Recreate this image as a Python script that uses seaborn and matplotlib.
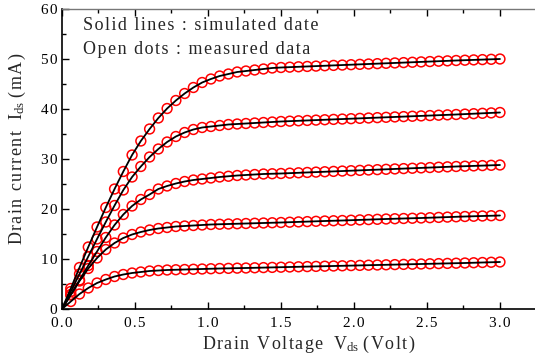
import numpy as np
import pandas as pd
import matplotlib
matplotlib.use("Agg")
import matplotlib.pyplot as plt
import seaborn as sns

# ==========================
# Data
# ==========================

vds = np.round(np.arange(1, 51) * 0.06, 2)

ids_1 = [1.5, 3.0, 4.2, 5.2, 5.9, 6.5, 6.9, 7.2, 7.4, 7.6,
         7.7, 7.8, 7.85, 7.9, 7.95, 8.0, 8.05, 8.1, 8.13, 8.17,
         8.2, 8.24, 8.28, 8.32, 8.36, 8.4, 8.44, 8.48, 8.52, 8.56,
         8.6, 8.64, 8.68, 8.72, 8.76, 8.8, 8.84, 8.88, 8.92, 8.96,
         9.0, 9.04, 9.08, 9.12, 9.16, 9.2, 9.25, 9.3, 9.35, 9.4]

ids_2 = [2.8, 5.6, 8.1, 10.2, 11.9, 13.2, 14.2, 14.9, 15.4, 15.8,
         16.1, 16.3, 16.5, 16.6, 16.7, 16.8, 16.9, 16.95, 17.0, 17.05,
         17.1, 17.15, 17.2, 17.25, 17.3, 17.36, 17.42, 17.48, 17.54, 17.6,
         17.65, 17.7, 17.76, 17.82, 17.88, 17.94, 18.0, 18.05, 18.1, 18.15,
         18.2, 18.26, 18.32, 18.38, 18.44, 18.5, 18.55, 18.6, 18.65, 18.7]

ids_3 = [2.9, 5.8, 8.7, 11.5, 14.3, 16.8, 18.9, 20.6, 21.9, 22.9,
         24.0, 24.6, 25.1, 25.5, 25.8, 26.0, 26.2, 26.4, 26.55, 26.7,
         26.8, 26.9, 27.0, 27.05, 27.1, 27.17, 27.24, 27.31, 27.38, 27.45,
         27.52, 27.59, 27.66, 27.73, 27.8, 27.87, 27.94, 28.01, 28.08, 28.15,
         28.22, 28.29, 28.36, 28.43, 28.5, 28.56, 28.62, 28.68, 28.74, 28.8]

ids_4 = [3.5, 7.0, 10.5, 14.0, 17.4, 20.7, 23.8, 26.4, 28.5, 30.4,
         32.0, 33.4, 34.5, 35.3, 35.9, 36.3, 36.5, 36.7, 36.9, 37.0,
         37.1, 37.2, 37.3, 37.4, 37.5, 37.57, 37.64, 37.71, 37.78, 37.85,
         37.92, 37.99, 38.06, 38.13, 38.2, 38.27, 38.34, 38.41, 38.48, 38.55,
         38.62, 38.69, 38.76, 38.83, 38.9, 38.98, 39.06, 39.14, 39.22, 39.3]

ids_5 = [4.1, 8.3, 12.4, 16.4, 20.3, 24.0, 27.5, 30.8, 33.6, 36.0,
         38.2, 40.1, 41.7, 43.1, 44.3, 45.3, 46.0, 46.6, 47.0, 47.4,
         47.6, 47.8, 48.0, 48.2, 48.3, 48.37, 48.44, 48.51, 48.58, 48.65,
         48.72, 48.79, 48.86, 48.93, 49.0, 49.07, 49.14, 49.21, 49.28, 49.35,
         49.42, 49.49, 49.56, 49.63, 49.7, 49.76, 49.82, 49.88, 49.94, 50.0]

curves = [ids_1, ids_2, ids_3, ids_4, ids_5]

# simulated lines start from the origin
sim_start_v = 0.0
sim_start_i = 0.0


def spaced(s):
    # the original text has wide letter spacing
    return "\u200a".join(s)


# ==========================
# Style
# ==========================

sns.set_style("ticks")
plt.rcParams["font.family"] = ["Liberation Serif", "DejaVu Serif"]
plt.rcParams["mathtext.fontset"] = "custom"
plt.rcParams["mathtext.rm"] = "Liberation Serif"
plt.rcParams["mathtext.it"] = "Liberation Serif:italic"

fig = plt.figure(figsize=(5.35, 3.6), dpi=100)
ax = fig.add_axes([62 / 535, 1 - 309 / 360, 1 - 62 / 535, 300 / 360])

# ==========================
# Curves
# ==========================

for ids in curves:
    meas = pd.DataFrame({"Vds": vds, "Ids": ids})
    sim = pd.DataFrame({"Vds": np.r_[sim_start_v, vds],
                        "Ids": np.r_[sim_start_i, ids]})
    sns.scatterplot(data=meas, x="Vds", y="Ids", ax=ax, marker="o",
                    s=50, fc="none", ec="red", linewidth=1.1, zorder=2,
                    clip_on=False)
    sns.lineplot(data=sim, x="Vds", y="Ids", ax=ax, color="black",
                 linewidth=1.3, estimator=None, sort=False, zorder=3)

# ==========================
# Axes
# ==========================

ax.set_xlim(0, 3.24)
ax.set_ylim(0, 60)
ax.set_xticks(np.arange(0, 3.01, 0.5))
ax.set_xticks(np.arange(0.25, 3.24, 0.5), minor=True)
ax.set_yticks(np.arange(0, 61, 10))
ax.set_yticks(np.arange(5, 60, 10), minor=True)
ax.xaxis.set_major_formatter(
    matplotlib.ticker.FuncFormatter(lambda v, p: spaced(f"{v:.1f}")))
ax.yaxis.set_major_formatter(
    matplotlib.ticker.FuncFormatter(lambda v, p: spaced(f"{v:.0f}")))

ax.tick_params(which="both", direction="in", top=True, right=False,
               labelsize=11, width=1.0, colors="black")
ax.tick_params(which="major", length=5)
ax.tick_params(which="minor", length=3)
ax.tick_params(axis="x", pad=6)

for side in ["left", "bottom"]:
    ax.spines[side].set_linewidth(1.2)
    ax.spines[side].set_color("black")
ax.spines["top"].set_color("#777777")
ax.spines["top"].set_linewidth(1.0)
ax.spines["right"].set_visible(False)

ax.set_xlabel(spaced("Drain Voltage") + "$\\;\\;\\;$V$_{\\rm ds}$ " + spaced("(Volt)"),
              fontsize=13)
ax.set_ylabel(spaced("Drain current") + "$\\;\\;\\;$I$_{\\rm ds}$ " + spaced("(mA)"),
              fontsize=13)
ax.xaxis.set_label_coords(0.522, -0.083)
ax.yaxis.set_label_coords(-0.072, 0.535)

ax.text(0.045, 0.945, spaced("Solid lines : simulated date"),
        transform=ax.transAxes, fontsize=13, va="center", ha="left")
ax.text(0.045, 0.865, spaced("Open dots : measured data"),
        transform=ax.transAxes, fontsize=13, va="center", ha="left")

plt.savefig("out.png", dpi=100)
